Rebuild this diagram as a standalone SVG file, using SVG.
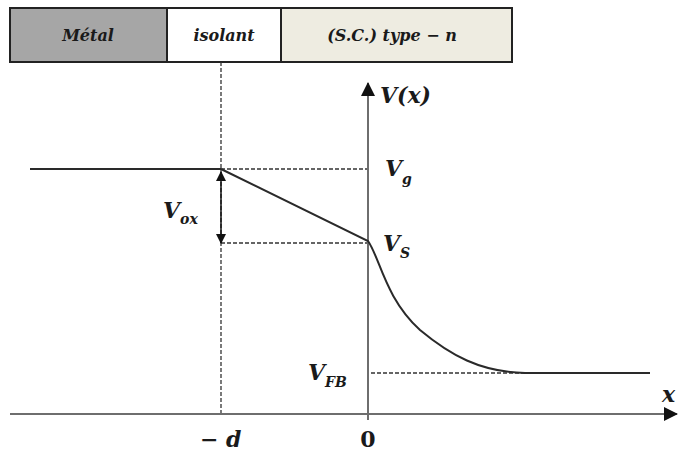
<svg xmlns="http://www.w3.org/2000/svg" width="679" height="452" viewBox="0 0 679 452">
<style>
.t{font-family:"DejaVu Serif","Liberation Serif",serif;font-weight:bold;font-style:italic;fill:#1a1a1a}
.bar{font-size:16px}
.lab{font-size:22px}
.sub{font-size:14px}
.up{font-style:normal}
.dash{stroke:#333;stroke-width:1.3;stroke-dasharray:4 2;fill:none}
.ax{stroke:#6e6e6e;stroke-width:2;fill:none}
.cv{stroke:#2a2a2a;stroke-width:2;fill:none}
</style>
<defs>
<marker id="ah" markerWidth="10" markerHeight="10" refX="9" refY="5" orient="auto" markerUnits="userSpaceOnUse">
<path d="M0,0 L10,5 L0,10 Z" fill="#111"/>
</marker>
<marker id="axh" markerWidth="14" markerHeight="14" refX="13" refY="7" orient="auto" markerUnits="userSpaceOnUse">
<path d="M0,0 L14,7 L0,14 Z" fill="#111"/>
</marker>
</defs>
<g id="bar">
<g id="metal"><rect x="10" y="8" width="157" height="54" fill="#a6a6a6" stroke="#222" stroke-width="2"/><text class="t bar" x="88" y="41" text-anchor="middle">Métal</text></g>
<g id="isolant"><rect x="167" y="8" width="114" height="54" fill="#ffffff" stroke="#222" stroke-width="2"/><text class="t bar" x="224" y="41" text-anchor="middle">isolant</text></g>
<g id="sc"><rect x="281" y="8" width="231" height="54" fill="#eeece1" stroke="#222" stroke-width="2"/><text class="t bar" x="392" y="41" text-anchor="middle">(S.C.) type − n</text></g>
</g>
<g id="connectors">
<line class="dash" x1="221" y1="62" x2="221" y2="414"/>
<line class="dash" x1="221" y1="169" x2="368" y2="169"/>
<line class="dash" x1="221" y1="243" x2="368" y2="243"/>
<line class="dash" x1="371" y1="373" x2="650" y2="373"/>
<line class="ax" x1="10" y1="414" x2="677" y2="414" marker-end="url(#axh)"/>
<line class="ax" x1="368" y1="420" x2="368" y2="83" marker-end="url(#axh)"/>
<line class="cv" x1="30" y1="169" x2="221" y2="169"/>
<path class="cv" d="M221,169 L368,241 C380,258 385,298 420,330 C450,355 480,372 525,373 L650,373"/>
<line x1="221" y1="178" x2="221" y2="236" stroke="#111" stroke-width="1.5"/>
<line x1="221" y1="178" x2="221" y2="172" stroke="#111" stroke-width="1.5" marker-end="url(#ah)"/>
<line x1="221" y1="236" x2="221" y2="243" stroke="#111" stroke-width="1.5" marker-end="url(#ah)"/>
</g>
<g id="labels">
<text class="t lab" x="380" y="103">V(x)</text>
<text class="t lab" x="385" y="176">V<tspan class="sub" dy="8">g</tspan></text>
<text class="t lab" x="383" y="251">V<tspan class="sub" dy="7">S</tspan></text>
<text class="t lab" x="308" y="380">V<tspan class="sub" dy="7">FB</tspan></text>
<text class="t lab" x="163" y="218">V<tspan class="sub" dy="6">ox</tspan></text>
<text class="t lab" x="662" y="402">x</text>
<text class="t lab" x="200" y="447">− d</text>
<text class="t lab up" x="368" y="447" text-anchor="middle">0</text>
</g>
</svg>
